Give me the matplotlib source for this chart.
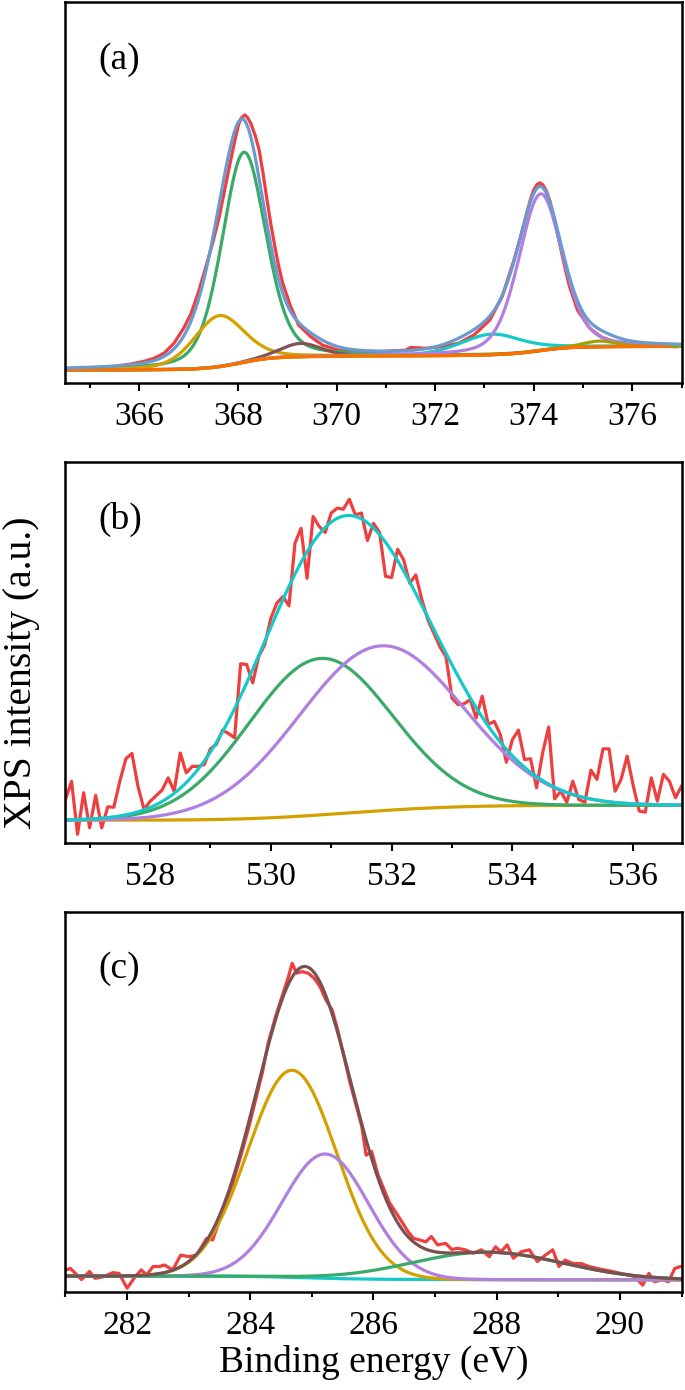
import numpy as np
import matplotlib
matplotlib.use("Agg")
import matplotlib.pyplot as plt
from matplotlib.ticker import MultipleLocator

plt.rcParams['font.family'] = ['Liberation Serif', 'DejaVu Serif']

# ---------------- panel (a) ----------------
a_xlim = (364.5, 377.0)
a_ticks = [366, 368, 370, 372, 374, 376]
a_red_x = [364.5, 365.0, 365.5, 365.8, 366.1, 366.3, 366.5, 366.7, 366.9, 367.05,
           367.2, 367.37, 367.5, 367.62, 367.75, 367.86, 367.95, 368.02, 368.08, 368.14,
           368.2, 368.26, 368.35, 368.43, 368.51, 368.59, 368.67, 368.75, 368.83, 368.91,
           369.07, 369.23, 369.48, 369.72, 370.04, 370.45, 370.85, 371.25, 371.4, 371.5,
           371.82, 372.14, 372.47, 372.79, 373.11, 373.36, 373.6, 373.72, 373.84, 373.93,
           374.0, 374.07, 374.13, 374.19, 374.25, 374.33, 374.41, 374.49, 374.57, 374.65,
           374.73, 374.89, 375.14, 375.38, 375.7, 376.1, 376.5, 376.9]
a_red_y = [3.5, 3.8, 4.5, 5.0, 5.8, 6.6, 7.9, 10.5, 14.5, 18.4,
           24.0, 31.5, 37.5, 43.7, 52.0, 59.0, 64.5, 68.2, 69.8, 70.4,
           69.6, 68.2, 65.0, 61.2, 55.0, 48.1, 41.5, 35.8, 30.5, 26.2,
           20.1, 15.3, 12.2, 10.0, 8.7, 8.0, 8.3, 8.6, 8.7, 9.4,
           9.2, 9.6, 10.5, 12.7, 16.6, 22.7, 32.3, 37.8, 43.7, 48.0,
           50.7, 52.2, 52.6, 52.0, 50.7, 47.8, 43.7, 38.8, 34.1, 29.5,
           25.3, 19.2, 14.4, 12.1, 10.7, 10.0, 9.8, 9.6]
a_comp_colors = ['#3AAA68', '#D4A000', '#7E5454', '#15C9C9', '#B07FE0', '#A0A000']
a_centers = [368.12, 367.62, 369.27, 373.15, 374.14, 375.34]
a_heights = [55.1, 13.4, 3.5, 5.4, 41.1, 1.5]
a_fwhm = [1.05, 1.2, 1.0, 1.5, 1.05, 0.8]
a_bg_ends = (3.5, 9.7)
a_mix = 0.3

# ---------------- panel (b) ----------------
b_xlim = (526.6, 536.8)
b_ticks = [528, 530, 532, 534, 536]
b_red_start, b_red_stop = 526.6, 536.8
b_red_y = [11.5, 16.3, 2.4, 13.3, 4.1, 12.6, 4.1, 9.6, 9.5, 16.3,
           22.2, 23.6, 15.0, 8.9, 11.0, 12.5, 14.0, 17.2, 13.7, 23.7,
           18.5, 20.2, 20.2, 20.7, 24.8, 26.0, 29.7, 28.8, 27.7, 47.1,
           46.9, 42.1, 49.0, 52.1, 59.0, 63.0, 64.7, 62.3, 78.7, 82.6,
           69.5, 85.7, 83.1, 81.5, 86.6, 87.9, 87.6, 90.2, 86.1, 86.6,
           79.4, 83.9, 81.5, 70.0, 69.7, 77.1, 74.3, 68.2, 70.4, 63.9,
           58.6, 55.1, 51.5, 49.0, 38.1, 36.4, 36.6, 37.7, 32.9, 38.6,
           31.2, 32.0, 28.5, 21.3, 27.2, 29.7, 22.0, 22.2, 14.6, 23.7,
           30.5, 11.7, 13.7, 10.8, 16.3, 11.5, 10.8, 19.2, 16.8, 24.8,
           24.8, 13.7, 16.8, 22.9, 15.2, 8.5, 8.2, 17.2, 11.1, 18.1,
           16.3, 12.0, 15.0]
b_comp_colors = ['#3AAA68', '#B07FE0']
b_centers = [530.82, 531.82]
b_heights = [41.0, 43.2]
b_fwhm = [2.8, 3.2]
b_bg_ends = (6.1, 10.0)

# ---------------- panel (c) ----------------
c_xlim = (281.0, 291.0)
c_ticks = [282, 284, 286, 288, 290]
c_red_x = [281.0, 281.08, 281.26, 281.39, 281.48, 281.61, 281.77, 281.87, 282.0, 282.13,
           282.23, 282.32, 282.42, 282.52, 282.61, 282.74, 282.87, 283.0, 283.13, 283.29,
           283.39, 283.49, 283.62, 283.74, 283.84, 283.97, 284.07, 284.2, 284.29, 284.42,
           284.52, 284.62, 284.68, 284.75, 284.84, 284.94, 285.04, 285.13, 285.23, 285.33,
           285.42, 285.52, 285.62, 285.72, 285.81, 285.88, 285.97, 286.07, 286.17, 286.26,
           286.36, 286.46, 286.56, 286.65, 286.75, 286.85, 286.94, 287.04, 287.17, 287.27,
           287.36, 287.49, 287.62, 287.75, 287.88, 287.98, 288.07, 288.17, 288.27, 288.4,
           288.53, 288.66, 288.79, 288.91, 289.01, 289.11, 289.24, 289.37, 289.5, 289.63,
           289.75, 289.88, 290.01, 290.14, 290.24, 290.37, 290.47, 290.56, 290.69, 290.79,
           290.89, 290.98]
c_red_y = [5.8, 6.2, 3.3, 5.4, 3.6, 4.0, 5.1, 4.9, 1.0, 4.0,
           5.8, 4.5, 6.7, 6.7, 7.1, 5.8, 9.7, 9.3, 9.7, 14.1,
           13.7, 18.5, 24.0, 30.0, 35.5, 43.0, 49.5, 58.0, 65.5, 73.0,
           78.0, 83.0, 86.5, 83.9, 84.3, 83.9, 82.5, 80.4, 76.8, 74.2,
           68.9, 62.0, 55.0, 49.0, 43.5, 36.0, 37.0, 31.0, 27.0, 23.5,
           21.0, 18.5, 15.9, 14.1, 13.7, 13.2, 14.6, 12.4, 12.8, 11.2,
           11.5, 11.1, 10.2, 11.1, 9.3, 11.9, 10.6, 12.4, 8.9, 10.6,
           11.1, 8.0, 9.7, 11.1, 6.7, 8.4, 7.5, 7.5, 6.7, 6.2,
           5.8, 5.4, 4.9, 4.5, 4.0, 1.8, 4.9, 2.7, 3.2, 2.7,
           6.2, 6.7]
c_comp_colors = ['#D4A000', '#B07FE0', '#3AAA68']
c_centers = [284.68, 285.22, 287.85]
c_heights = [54.5, 32.7, 7.2]
c_fwhm = [1.7, 1.65, 2.9]
c_bg_ends = (4.2, 3.2)

RED = '#EF3E3E'
LW = 2.3


def pv(x, c, h, w, m):
    d = (x - c) / w
    g = np.exp(-4 * np.log(2) * d ** 2)
    l = 1.0 / (1.0 + 4 * d ** 2)
    return h * ((1 - m) * g + m * l)


def shirley(x, peaks_sum, lo, hi):
    cum = np.cumsum(peaks_sum)
    return lo + (hi - lo) * cum / cum[-1]


fig = plt.figure(figsize=(6.85, 13.9), dpi=100)
left, width = 0.0956, 0.8993
ax_a = fig.add_axes([left, 0.7242, width, 0.2743])
ax_b = fig.add_axes([left, 0.3932, width, 0.2745])
ax_c = fig.add_axes([left, 0.0705, width, 0.2734])

for ax, lim, ticks, lab in [(ax_a, a_xlim, a_ticks, '(a)'),
                            (ax_b, b_xlim, b_ticks, '(b)'),
                            (ax_c, c_xlim, c_ticks, '(c)')]:
    ax.set_xlim(*lim)
    ax.set_ylim(0, 100)
    ax.set_xticks(ticks)
    ax.xaxis.set_minor_locator(MultipleLocator(1))
    ax.set_yticks([])
    ax.tick_params(axis='x', which='major', direction='out', length=6, width=1.5,
                   labelsize=24, pad=7)
    ax.tick_params(axis='x', which='minor', direction='out', length=3.5, width=1.5)
    for s in ax.spines.values():
        s.set_linewidth(1.8)
    ax.text(0.053, 0.85, lab, transform=ax.transAxes, fontsize=27,
            ha='left', va='center')

# panel (a)
xa = np.linspace(a_xlim[0], a_xlim[1], 800)
comps_a = [pv(xa, c, h, w, a_mix) for c, h, w in zip(a_centers, a_heights, a_fwhm)]
bg_a = shirley(xa, np.sum(comps_a, axis=0), *a_bg_ends)
ax_a.plot(a_red_x, a_red_y, color=RED, lw=LW)
for comp, col in zip(comps_a, a_comp_colors):
    ax_a.plot(xa, comp + bg_a, color=col, lw=LW)
ax_a.plot(xa[xa <= 376.75], bg_a[xa <= 376.75], color='#FF6F00', lw=LW)
ax_a.plot(xa, np.sum(comps_a, axis=0) + bg_a, color='#6A9AD0', lw=LW)

# panel (b)
xb = np.linspace(b_xlim[0], b_xlim[1], 800)
comps_b = [pv(xb, c, h, w, 0.0) for c, h, w in zip(b_centers, b_heights, b_fwhm)]
bg_b = shirley(xb, np.sum(comps_b, axis=0), *b_bg_ends)
red_bx = np.linspace(b_red_start, b_red_stop, len(b_red_y))
ax_b.plot(red_bx, b_red_y, color=RED, lw=LW)
ax_b.plot(xb, bg_b, color='#D4A000', lw=LW)
for comp, col in zip(comps_b, b_comp_colors):
    ax_b.plot(xb, comp + bg_b, color=col, lw=LW)
ax_b.plot(xb, np.sum(comps_b, axis=0) + bg_b, color='#15C9C9', lw=LW)

# panel (c)
xc = np.linspace(c_xlim[0], c_xlim[1], 800)
comps_c = [pv(xc, c, h, w, 0.0) for c, h, w in zip(c_centers, c_heights, c_fwhm)]
bg_c = shirley(xc, np.sum(comps_c, axis=0), *c_bg_ends)
ax_c.plot(c_red_x, c_red_y, color=RED, lw=LW)
ax_c.plot(xc, bg_c, color='#15C9C9', lw=LW)
for comp, col in zip(comps_c, c_comp_colors):
    ax_c.plot(xc, comp + bg_c, color=col, lw=LW)
ax_c.plot(xc, np.sum(comps_c, axis=0) + bg_c, color='#7A5050', lw=LW)

ax_c.set_xlabel('Binding energy (eV)', fontsize=27, labelpad=3)
fig.text(0.032, 0.516, 'XPS intensity (a.u.)', rotation=90, fontsize=28.5,
         ha='center', va='center')

fig.savefig('out.png', dpi=100)
